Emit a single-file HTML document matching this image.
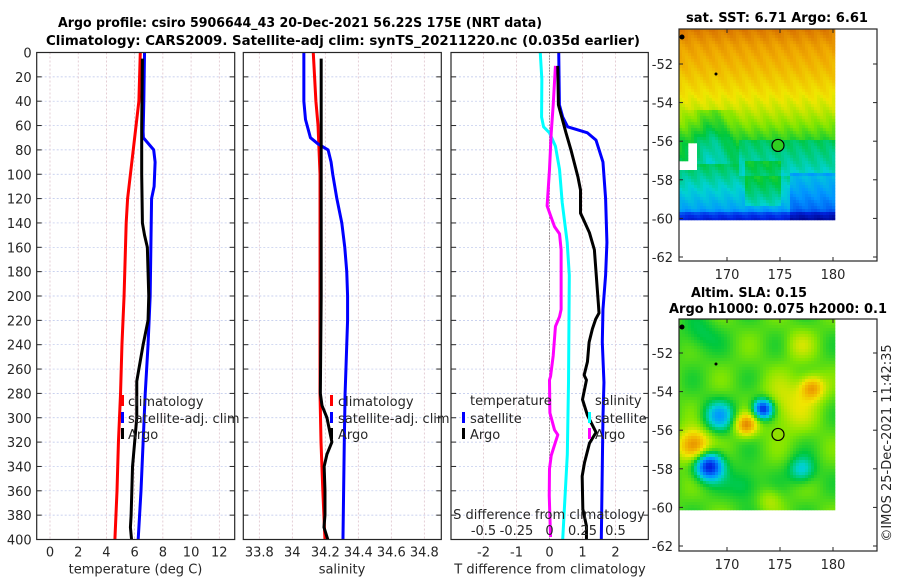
<!DOCTYPE html>
<html><head><meta charset="utf-8">
<style>
html,body{margin:0;padding:0;background:#fff;}
svg{display:block;font-family:"DejaVu Sans","Liberation Sans",sans-serif;}
.tk{font-size:13px;fill:#262626;}
.tt{font-size:13px;font-weight:bold;fill:#000;}
</style></head>
<body>
<svg id="fig" width="900" height="580" viewBox="0 0 900 580" xmlns="http://www.w3.org/2000/svg">
<text class="tt" x="58" y="27" textLength="484" lengthAdjust="spacingAndGlyphs">Argo profile: csiro 5906644_43 20-Dec-2021 56.22S 175E (NRT data)</text>
<text class="tt" x="46" y="45" textLength="594" lengthAdjust="spacingAndGlyphs">Climatology: CARS2009. Satellite-adj clim: synTS_20211220.nc (0.035d earlier)</text>
<text class="tt" x="686" y="22" textLength="182" lengthAdjust="spacingAndGlyphs">sat. SST: 6.71 Argo: 6.61</text>
<text class="tt" x="691" y="297" textLength="116" lengthAdjust="spacingAndGlyphs">Altim. SLA: 0.15</text>
<text class="tt" x="669" y="313" textLength="218" lengthAdjust="spacingAndGlyphs">Argo h1000: 0.075 h2000: 0.1</text>
<text class="tk" transform="translate(891,443) rotate(-90)" text-anchor="middle">©IMOS 25-Dec-2021 11:42:35</text>
<g id="layer"></g>
</svg>
<script>
// ---------- DATA ----------
const depthTicks=[0,20,40,60,80,100,120,140,160,180,200,220,240,260,280,300,320,340,360,380,400];
const tempTicks=[0,2,4,6,8,10,12];
const salTicks=[33.8,34,34.2,34.4,34.6,34.8];
const salTickLabels=["33.8","34","34.2","34.4","34.6","34.8"];
const tdiffTicks=[-2,-1,0,1,2];
const sdiffTicks=[-0.5,-0.25,0,0.25,0.5];
const sdiffTickLabels=["-0.5","-0.25","0","0.25","0.5"];

const climTdep=[0,40,60,80,100,120,140,200,240,280,320,360,400];
const climTval=[6.4,6.3,6.1,5.9,5.7,5.5,5.4,5.25,5.1,5.0,4.85,4.75,4.6];
const satTdep=[0,40,65,70,80,90,110,120,160,200,240,280,320,360,400];
const satTval=[6.7,6.65,6.6,6.62,7.35,7.45,7.38,7.2,7.15,7.1,6.95,6.75,6.6,6.45,6.25];
const argoTdep=[5,60,100,140,150,160,180,200,220,240,260,270,300,320,340,360,380,390,400];
const argoTval=[6.55,6.5,6.5,6.55,6.7,6.9,6.95,7.0,6.95,6.6,6.3,6.15,6.15,6.0,5.85,5.8,5.75,5.7,5.78];

const climSdep=[0,40,60,80,100,200,280,320,360,400];
const climSval=[34.127,34.143,34.156,34.162,34.168,34.168,34.168,34.174,34.185,34.198];
const satSdep=[0,40,55,70,75,80,90,100,120,140,160,180,200,220,240,260,280,320,400];
const satSval=[34.07,34.07,34.08,34.11,34.155,34.217,34.235,34.245,34.27,34.3,34.318,34.33,34.335,34.335,34.33,34.325,34.32,34.315,34.307];
const argoSdep=[5,140,200,280,290,300,310,320,330,340,360,380,390,400];
const argoSval=[34.175,34.175,34.175,34.17,34.18,34.21,34.225,34.24,34.21,34.193,34.198,34.198,34.192,34.215];

const dTsatDep=[0,43,53,61,66,72,90,120,156,183,211,238,271,300,340,400];
const dTsatVal=[0.28,0.3,0.4,0.55,1.15,1.41,1.62,1.7,1.74,1.7,1.62,1.6,1.65,1.62,1.6,1.57];
const dTargoDep=[11,43,57,66,80,102,113,132,136,148,162,206,214,219,227,238,254,265,269,285,298,312,321,337,348,375,389,400];
const dTargoVal=[0.25,0.27,0.41,0.5,0.65,0.86,0.94,0.94,1.01,1.21,1.36,1.48,1.5,1.4,1.3,1.2,1.15,1.05,1.12,1.0,1.15,1.41,1.21,1.06,0.99,1.01,1.12,1.12];
const dSsatDep=[0,22,53,61,66,77,96,123,156,183,271,330,400];
const dSsatVal=[-0.07,-0.058,-0.06,-0.045,0.0,0.045,0.076,0.096,0.134,0.15,0.144,0.135,0.1];
const dSargoDep=[11,43,66,96,126,134,143,149,162,211,217,225,249,266,269,296,310,314,320,331,342,364,398];
const dSargoVal=[0.045,0.028,0.013,0.0,-0.018,0.008,0.038,0.076,0.088,0.088,0.076,0.045,0.028,0.008,0.0,0.003,0.038,0.063,0.045,0.013,0.0,-0.002,0.008];

// ---------- HELPERS ----------
const NS="http://www.w3.org/2000/svg";
const layer=document.getElementById('layer');
function mk(tag,at,parent){const e=document.createElementNS(NS,tag);for(const k in at)e.setAttribute(k,at[k]);(parent||layer).appendChild(e);return e;}
const Y0=52.5,Y1=539.5;
const yD=d=>Y0+(d/400)*(Y1-Y0);
function linScale(d0,d1,r0,r1){return v=>r0+(v-d0)/(d1-d0)*(r1-r0);}
const P1={x0:36.7,x1:234.7}, P2={x0:243.3,x1:441.3}, P3={x0:451,x1:648.3};
const xT=linScale(0,12,50,219.3);
const xS=linScale(33.8,34.8,259.3,424.3);
const xdT=linScale(0,2,549.5,615.5);
const xdS=linScale(0,0.5,549.5,615.5);

function panelFrame(P,name,xticks,xfun,labels,leftLabels){
  const g=mk('g',{});
  
  
  mk('rect',{x:P.x0,y:Y0,width:P.x1-P.x0,height:Y1-Y0,fill:'#fff'},g);
  depthTicks.forEach(d=>{
    const l=mk('line',{x1:P.x0,x2:P.x1,y1:yD(d),y2:yD(d),stroke:'#b9c3ea','stroke-width':0.7,'stroke-dasharray':'2,2'},g);
    
    
    mk('line',{x1:P.x0,x2:P.x0+5,y1:yD(d),y2:yD(d),stroke:'#262626','stroke-width':1},g);
    mk('line',{x1:P.x1-5,x2:P.x1,y1:yD(d),y2:yD(d),stroke:'#262626','stroke-width':1},g);
    if(leftLabels){const t=mk('text',{x:P.x0-5,y:yD(d)+5,'text-anchor':'end',class:'tk'},g);t.textContent=d;
      
      }
  });
  xticks.forEach((v,i)=>{
    const x=xfun(v);
    const l=mk('line',{x1:x,x2:x,y1:Y0,y2:Y1,stroke:'#d9b9c3','stroke-width':0.7,'stroke-dasharray':'2,2'},g);
    
    
    if(labels){const t=mk('text',{x:x,y:Y1+17,'text-anchor':'middle',class:'tk'},g);t.textContent=labels[i];
      
      }
  });
  return g;
}
function frameBorder(P){mk('rect',{x:P.x0,y:Y0,width:P.x1-P.x0,height:Y1-Y0,fill:'none',stroke:'#262626','stroke-width':1.2});}
function profile(deps,vals,xf,color,name,w){
  const pts=deps.map((d,i)=>xf(vals[i]).toFixed(2)+','+yD(d).toFixed(2)).join(' ');
  const p=mk('polyline',{points:pts,fill:'none',stroke:color,'stroke-width':w||3,'stroke-linejoin':'round'});
  
  
}
function txt(x,y,s,name,anchor){const t=mk('text',{x:x,y:y,class:'tk','text-anchor':anchor||'start'});t.textContent=s;
  
  return t;}
function legMark(x,y,color,name){const r=mk('rect',{x:x,y:y-11,width:3,height:11,fill:color});
  
  }

// ---------- PANEL 1 temperature ----------
panelFrame(P1,'temperature-panel',tempTicks,xT,tempTicks.map(String),true);
profile(climTdep,climTval,xT,'#ff0000','temp-climatology-line');
profile(satTdep,satTval,xT,'#0000ff','temp-satellite-line');
profile(argoTdep,argoTval,xT,'#000000','temp-argo-line');
frameBorder(P1);
txt(135.5,Y1+34,'temperature (deg C)','temperature-axis-title','middle');
legMark(121,406,'#ff0000','legend-climatology-marker');txt(128,406,'climatology','legend-climatology');
legMark(121,423,'#0000ff','legend-satellite-marker');txt(128,423,'satellite-adj. clim','legend-satellite-adj');
legMark(121,439,'#000000','legend-argo-marker');txt(128,439,'Argo','legend-argo');

// ---------- PANEL 2 salinity ----------
panelFrame(P2,'salinity-panel',salTicks,xS,salTickLabels,false);
profile(climSdep,climSval,xS,'#ff0000','sal-climatology-line');
profile(satSdep,satSval,xS,'#0000ff','sal-satellite-line');
profile(argoSdep,argoSval,xS,'#000000','sal-argo-line');
frameBorder(P2);
txt(342,Y1+34,'salinity','salinity-axis-title','middle');
legMark(330,406,'#ff0000','legend2-climatology-marker');txt(338,406,'climatology','legend2-climatology');
legMark(330,423,'#0000ff','legend2-satellite-marker');txt(338,423,'satellite-adj. clim','legend2-satellite-adj');
legMark(330,439,'#000000','legend2-argo-marker');txt(338,439,'Argo','legend2-argo');

// ---------- PANEL 3 differences ----------
panelFrame(P3,'difference-panel',tdiffTicks,xdT,tdiffTicks.map(String),false);
{const z=mk('line',{x1:xdT(0),x2:xdT(0),y1:Y0,y2:Y1,stroke:'#555','stroke-width':1,'stroke-dasharray':'1,2'});
 
 }
profile(dSsatDep,dSsatVal,xdS,'#00ffff','sdiff-satellite-line');
profile(dSargoDep,dSargoVal,xdS,'#ff00ff','sdiff-argo-line');
profile(dTsatDep,dTsatVal,xdT,'#0000ff','tdiff-satellite-line');
profile(dTargoDep,dTargoVal,xdT,'#000000','tdiff-argo-line');
frameBorder(P3);
txt(550,Y1+34,'T difference from climatology','tdiff-axis-title','middle');
txt(549,519,'S difference from climatology','sdiff-axis-title','middle');
sdiffTicks.forEach((v,i)=>txt(xdS(v),535,sdiffTickLabels[i],'sdiff-tick-label','middle'));
txt(470,405,'temperature','legend3-temperature-header');
txt(595,405,'salinity','legend3-salinity-header');
legMark(462,423,'#0000ff','legend3-tsat-marker');txt(470,423,'satellite','legend3-tsat');
legMark(462,439,'#000000','legend3-targo-marker');txt(470,439,'Argo','legend3-targo');
legMark(588,423,'#00ffff','legend3-ssat-marker');txt(595,423,'satellite','legend3-ssat');
legMark(588,439,'#ff00ff','legend3-sargo-marker');txt(595,439,'Argo','legend3-sargo');

// ---------- MAPS ----------
// colour stops tuned to the reference palette
const cmapV=[0.0,0.15,0.3,0.4,0.5,0.6,0.7,0.8,0.9,1.0];
const cmapC=[[0,0,130],[0,40,230],[0,150,255],[0,210,210],[0,200,60],[130,230,0],[240,230,0],[240,170,0],[215,110,0],[170,50,0]];
function cmap(v){v=Math.max(0,Math.min(1,v));let i=1;while(i<cmapV.length-1&&v>cmapV[i])i++;
  const f=(v-cmapV[i-1])/(cmapV[i]-cmapV[i-1]);const a=cmapC[i-1],b=cmapC[i];
  return 'rgb('+a.map((c,k)=>Math.round(c+(b[k]-c)*f)).join(',')+')';}
const MX0=679,MX1=877,IMX1=833;
const lonX=linScale(170,180,727,833);
function interp(xs,ys,x){if(x<=xs[0])return ys[0];for(let i=1;i<xs.length;i++)if(x<=xs[i])return ys[i-1]+(ys[i]-ys[i-1])*(x-xs[i-1])/(xs[i]-xs[i-1]);return ys[ys.length-1];}
const sstRowY=[29,45,70,90,110,125,140,165,180,195,210,214,220];
const sstRowV=[0.88,0.82,0.77,0.72,0.66,0.6,0.53,0.48,0.43,0.38,0.32,0.18,0.12];
const slaBlobs=[[709,466,14,-0.45],[719,416,15,-0.22],[763,409,10,-0.45],[694,446,16,0.32],[746,425,11,0.27],[812,388,12,0.24],[790,405,28,0.12],[802,470,13,-0.18],[700,335,18,-0.08],[745,485,16,-0.1],[770,500,12,0.08],[800,345,15,0.08]];
function drawMap(top,bot,imgBot,name,fieldFn){
  const g=mk('g',{});
  
  
  const cs=3;
  for(let y=top;y<imgBot;y+=cs)for(let x=MX0;x<IMX1;x+=cs){
    const v=fieldFn(x+1.5,y+1.5);
    if(v===null)continue;
    mk('rect',{x:x,y:y,width:cs+0.3,height:Math.min(cs,imgBot-y)+0.3,fill:cmap(v)},g);
  }
  const latY=linScale(-52,-62,top+(top<100?35:34),bot-(top<100?4:5));
  [-52,-54,-56,-58,-60,-62].forEach(l=>{
    const y=latY(l);
    mk('line',{x1:MX0,x2:MX0+4,y1:y,y2:y,stroke:'#262626'},g);
    mk('line',{x1:MX1-4,x2:MX1,y1:y,y2:y,stroke:'#262626'},g);
    const t=mk('text',{x:MX0-6,y:y+5,'text-anchor':'end',class:'tk'},g);t.textContent=l;
    
    
  });
  [170,175,180].forEach(l=>{
    const x=lonX(l);
    mk('line',{x1:x,x2:x,y1:top,y2:top+4,stroke:'#262626'},g);
    mk('line',{x1:x,x2:x,y1:bot-4,y2:bot,stroke:'#262626'},g);
    const t=mk('text',{x:x,y:bot+18,'text-anchor':'middle',class:'tk'},g);t.textContent=l;
    
    
  });
  mk('rect',{x:MX0,y:top,width:MX1-MX0,height:bot-top,fill:'none',stroke:'#262626','stroke-width':1.2},g);
  const c=mk('circle',{cx:778,cy:latY(-56.22),r:6,fill:top<100?'#30d020':'#90e000',stroke:'#000','stroke-width':1.2},g);
  
  
  mk('circle',{cx:682,cy:top+8,r:2.5,fill:'#000'},g);
  mk('circle',{cx:716,cy:top+45,r:1.5,fill:'#000'},g);
}
drawMap(29,261,220,'sst-map',(x,y)=>{
  if(x<697&&y>143&&y<170&&!(x<688&&y<160))return null;
  let v=interp(sstRowY,sstRowV,y);
  if(y>110&&y<165){v-=0.08*Math.exp(-Math.pow((x-712)/18,2));}
  if(y>140&&y<175&&x>740)v-=0.05;
  if(x>790&&y>172)v-=0.08;
  if(y>160&&y<205&&Math.abs(x-762)<18)v+=0.07;
  return v+0.015*Math.sin(x*1.7+y*2.3);
});
drawMap(319,551,510,'sla-map',(x,y)=>{
  let v=0.56+0.04*Math.sin(x/9)*Math.cos(y/11);
  slaBlobs.forEach(b=>{const d2=((x-b[0])**2+(y-b[1])**2)/(b[2]*b[2]);v+=b[3]*Math.exp(-d2);});
  return v;
});
</script>
</body></html>
